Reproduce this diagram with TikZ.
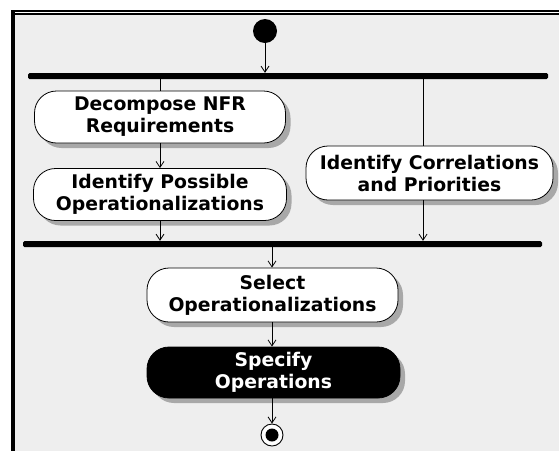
\documentclass[tikz,border=0pt]{standalone}
\usepackage{fontspec}
\setmainfont{DejaVu Sans}
\usetikzlibrary{arrows.meta,shadows}
\definecolor{bggray}{HTML}{EEEEEE}
\definecolor{shadowgray}{HTML}{A8A8A8}
\begin{document}
\begin{tikzpicture}[x=1pt,y=-1pt,
  activity/.style={rectangle, rounded corners=22pt, draw=black, line width=0.8pt,
    fill=white, align=center, inner sep=0pt,
    font=\fontsize{18.8}{22}\selectfont\bfseries,
    drop shadow={shadow xshift=5pt, shadow yshift=-5pt, fill=shadowgray, opacity=1}},
  actdark/.style={activity, fill=black, text=white},
  bar/.style={rectangle, fill=black, inner sep=0pt, rounded corners=1.5pt, minimum height=6pt},
  flow/.style={draw=black, line width=0.8pt, -{Straight Barb[length=6pt,width=8pt]}},
  link/.style={draw=black, line width=0.8pt}]
\useasboundingbox (0,0) rectangle (559,451);
% frame
\fill[white] (0,0) rectangle (559,451);
\fill[bggray] (15,15) rectangle (559,451);
\fill[black] (11,10) rectangle (15,451);
\fill[black] (11,10) rectangle (559,11.8);
\fill[black] (11,13.2) rectangle (559,15);
% nodes
\node[circle, fill=black, minimum size=24pt, inner sep=0pt] (start) at (265,31) {};
\node[bar, minimum width=520pt] (fork) at (288,76) {};
\node[activity, minimum width=251pt, minimum height=52pt] (dec) at (160,117) {Decompose NFR\\Requirements};
\node[activity, minimum width=253pt, minimum height=52pt] (ipo) at (160,194.5) {Identify Possible\\Operationalizations};
\node[activity, minimum width=247pt, minimum height=54pt] (corr) at (429.5,173) {Identify Correlations\\and Priorities};
\node[bar, minimum width=519pt] (join) at (282.5,244) {};
\node[activity, minimum width=251pt, minimum height=54pt] (sel) at (272.5,295) {Select\\Operationalizations};
\node[actdark, minimum width=253pt, minimum height=51pt] (spec) at (273.5,372.5) {Specify\\Operations};
\node[circle, draw=black, line width=0.9pt, fill=white, minimum size=22pt, inner sep=0pt] (end) at (272,435) {};
\fill[black] (end.center) circle (6.5pt);
\coordinate (rc) at (423,0);
\coordinate (mc) at (272,0);
% connectors
\draw[flow] (start) -- (start |- fork.north);
\draw[link] (fork.south -| dec) -- (dec.north);
\draw[link] (fork.south -| rc) -- (corr.north -| rc);
\draw[flow] (dec.south) -- (ipo.north);
\draw[flow] (ipo.south) -- (join.north -| ipo);
\draw[flow] (corr.south -| rc) -- (join.north -| rc);
\draw[flow] (join.south -| mc) -- (sel.north -| mc);
\draw[flow] (sel.south -| mc) -- (spec.north -| mc);
\draw[flow] (spec.south -| mc) -- (end.north);
\end{tikzpicture}
\end{document}
